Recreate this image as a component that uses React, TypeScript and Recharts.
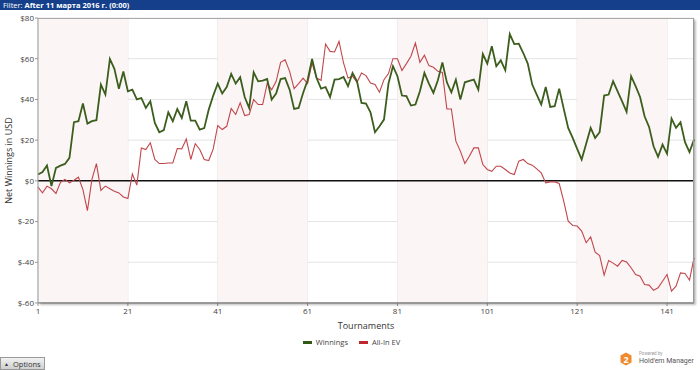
import React from 'react';
import {
  LineChart,
  Line,
  XAxis,
  YAxis,
  CartesianGrid,
  ReferenceArea,
  ReferenceLine,
} from 'recharts';

// cumulative results per tournament
const winnings = [
  3.1, 4.3, 7.5, -2.6, 6.4, 7.5, 8.3, 11.3, 28.8, 29.3,
  38, 28.1, 29.3, 29.8, 47.3, 42.4, 59.9, 55, 45.2, 53.7,
  44, 44.8, 40, 40.7, 35.8, 39.1, 28.5, 23.9, 24.9, 33.7,
  29.3, 35.3, 30.9, 39.1, 29.6, 29.6, 25.2, 25.9, 35, 41.9,
  47.8, 42.9, 46.1, 52.5, 47.8, 50.9, 41.2, 35.8, 53.3, 48.9,
  49.2, 50, 39.9, 42.9, 50, 50.5, 44.8, 35.3, 35.8, 43.2,
  49.4, 59.9, 50.5, 45.3, 46.1, 41.2, 49.7, 50, 51, 46.5,
  53, 48.9, 38.3, 38, 33.7, 23.9, 26.8, 30.1, 47.8, 56.3,
  51.4, 41.9, 41.6, 37, 37.5, 44, 53, 47.8, 43.2, 49.4,
  58.2, 48.4, 43.5, 49.7, 39.9, 48.4, 49.1, 49.7, 44.8, 62.3,
  57.6, 66.1, 56.3, 59.2, 54.3, 72.1, 67.2, 67.4, 62.8, 57.6,
  47.3, 42.4, 37.5, 46.1, 36.3, 36.7, 45.3, 35.5, 26, 21.1,
  15.7, 10.5, 18.2, 26, 21.1, 23.9, 41.9, 42.4, 48.9, 44,
  39.1, 33.9, 51.4, 46.5, 41.2, 31.7, 26.5, 17, 11.8, 17.8,
  13.3, 30.6, 26, 28.8, 19, 14.1, 20.3,
];

const allInEv = [
  -3.1, -5.9, -2.6, -3.9, -6.2, -0.7, 0.7, -1, 0.3, 1.8,
  -4.3, -14.6, 0.7, 8.5, -4.7, -2.6, -3.9, -5.1, -5.9, -7.9,
  -8.7, 3.4, -2.1, 16.2, 15.4, 18.7, 10.5, 8.5, 8.5, 8.8,
  8.8, 15.9, 15.7, 20.6, 10.5, 18.3, 15.4, 10.5, 10, 15.7,
  27.2, 25.2, 26.8, 35.5, 32.6, 38.3, 32.1, 32.6, 39.9, 37.5,
  37.5, 47.8, 44.8, 48.9, 58.2, 59.5, 53.8, 45.3, 47.8, 50.5,
  47.8, 57.9, 50.5, 49.4, 67.2, 63.6, 63.3, 68.5, 57.9, 50.5,
  51.4, 48.4, 53, 51.7, 48.1, 47.3, 43.5, 49.7, 52.7, 60,
  60, 54.2, 57.6, 61.2, 67.7, 58.2, 61.7, 56.6, 55.8, 53.8,
  53.3, 35.3, 35.3, 19.5, 14.6, 8.5, 12.1, 16.2, 16.2, 8,
  5.6, 4.7, 7.2, 7.2, 5.6, 3.9, 3.1, 9.7, 10.5, 8.5,
  7.7, 5.9, 3.9, -1, -0.5, -0.5, -1.3, -10, -19.8, -21.9,
  -22.2, -24.7, -30.4, -27.5, -35, -36.7, -46.3, -39.1, -40.4, -41.9,
  -39.1, -39.9, -42.7, -46, -46.8, -50.9, -51.2, -53.8, -52.5, -49.3,
  -46, -54.2, -51.7, -45.2, -45.5, -48.8, -37.8,
];

const xTicks = [1, 21, 41, 61, 81, 101, 121, 141];
const yTicks = [-60, -40, -20, 0, 20, 40, 60, 80];
const shadedBands = [
  [1, 21],
  [41, 61],
  [81, 101],
  [121, 141],
];

const data = winnings.map((w, i) => ({
  tournament: i + 1,
  winnings: w,
  allInEv: allInEv[i],
}));

const FONT = '"Open Sans", "Noto Sans", sans-serif';
const GREEN = '#3b5e1d';
const RED = '#c1464b';

function LegendItem({ color, label }: { color: string; label: string }) {
  return (
    <span style={{ display: 'inline-flex', alignItems: 'center', marginRight: 11 }}>
      <span style={{ width: 9, height: 3, background: color, marginRight: 4 }} />
      <span>{label}</span>
    </span>
  );
}

export default function App() {
  return (
    <div
      style={{
        position: 'absolute',
        left: 0,
        top: 0,
        width: 700,
        height: 370,
        background: '#fff',
        overflow: 'hidden',
        fontFamily: FONT,
      }}
    >
      <div
        style={{
          position: 'absolute',
          left: 0,
          top: 0,
          width: 700,
          height: 10,
          background: '#153f8b',
          color: '#fff',
          fontSize: 7.5,
          lineHeight: '10px',
          paddingLeft: 3,
          boxSizing: 'border-box',
          whiteSpace: 'nowrap',
        }}
      >
        Filter: <b>After 11 марта 2016 г. (0:00)</b>
      </div>

      <div style={{ position: 'absolute', left: 0, top: 0 }}>
        <LineChart
          width={700}
          height={370}
          data={data}
          margin={{ top: 18, right: 6, left: 0, bottom: 37 }}
        >
          {shadedBands.map(([a, b]) => (
            <ReferenceArea key={a} x1={a} x2={b} fill="#fbf5f5" fillOpacity={1} stroke="none" />
          ))}
          <CartesianGrid stroke="#e4e4e4" strokeWidth={1} />
          <XAxis
            dataKey="tournament"
            type="number"
            domain={[1, 147]}
            ticks={xTicks}
            interval={0}
            height={30}
            tickSize={3}
            tickMargin={2}
            stroke="#999"
            tick={{ fontSize: 8, fill: '#444', fontFamily: FONT }}
            label={{
              value: 'Tournaments',
              position: 'insideBottom',
              offset: 4,
              style: { fontSize: 9, fill: '#333', fontFamily: FONT },
            }}
          />
          <YAxis
            type="number"
            domain={[-60, 80]}
            ticks={yTicks}
            interval={0}
            width={38}
            tickSize={3}
            tickMargin={1}
            stroke="#999"
            tickFormatter={(v: number) => `$${v}`}
            tick={{ fontSize: 8, fill: '#444', fontFamily: FONT }}
            label={{
              value: 'Net Winnings in USD',
              angle: -90,
              position: 'insideLeft',
              offset: 9,
              style: { textAnchor: 'middle', fontSize: 9, fill: '#333', fontFamily: FONT },
            }}
          />
          <ReferenceLine y={0} stroke="#111" strokeWidth={1.5} />
          <Line
            type="linear"
            dataKey="allInEv"
            stroke={RED}
            strokeWidth={1.1}
            dot={false}
            isAnimationActive={false}
          />
          <Line
            type="linear"
            dataKey="winnings"
            stroke={GREEN}
            strokeWidth={1.8}
            dot={false}
            isAnimationActive={false}
          />
        </LineChart>
      </div>

      {/* plot frame with the soft shadow on the right and bottom */}
      <div
        style={{
          position: 'absolute',
          left: 38,
          top: 18,
          width: 656,
          height: 285,
          borderTop: '1px solid #aaa',
          borderRight: '1px solid #999',
          borderBottom: '1px solid #999',
          boxShadow: '2px 2px 2px rgba(0,0,0,0.25)',
          boxSizing: 'border-box',
          pointerEvents: 'none',
        }}
      />

      <div
        style={{
          position: 'absolute',
          left: 0,
          top: 337,
          width: 700,
          height: 10,
          display: 'flex',
          justifyContent: 'center',
          alignItems: 'center',
          fontSize: 7.5,
          color: '#444',
          paddingLeft: 14,
          boxSizing: 'border-box',
        }}
      >
        <LegendItem color="#2f5a14" label="Winnings" />
        <LegendItem color="#c0262d" label="All-In EV" />
      </div>

      <div
        style={{
          position: 'absolute',
          left: 0,
          top: 357,
          width: 45,
          height: 13,
          border: '1px solid #999',
          boxSizing: 'border-box',
          background: 'linear-gradient(#f2f2f2, #cfcfcf)',
          fontSize: 7.5,
          color: '#333',
          display: 'flex',
          alignItems: 'center',
          paddingLeft: 3,
        }}
      >
        <span style={{ fontSize: 5, marginRight: 4 }}>▲</span>Options
      </div>

      <div style={{ position: 'absolute', left: 620, top: 351, width: 80, height: 18 }}>
        <svg width={12} height={14} style={{ position: 'absolute', left: 0, top: 1 }}>
          <polygon points="6,0.5 11.5,3.5 11.5,10.5 6,13.5 0.5,10.5 0.5,3.5" fill="#f08a2c" />
          <text x={6} y={10.5} textAnchor="middle" fontSize={9} fontWeight="bold" fill="#fff" fontFamily={FONT}>
            2
          </text>
        </svg>
        <div
          style={{
            position: 'absolute',
            left: 19,
            top: 0,
            fontSize: 4.5,
            color: '#999',
            lineHeight: '5px',
            fontFamily: 'Roboto, sans-serif',
          }}
        >
          Powered by
        </div>
        <div
          style={{
            position: 'absolute',
            left: 19,
            top: 6,
            fontSize: 7,
            color: '#555',
            lineHeight: '9px',
            whiteSpace: 'nowrap',
            fontFamily: 'Roboto, sans-serif',
          }}
        >
          Hold'em Manager
        </div>
      </div>
    </div>
  );
}
